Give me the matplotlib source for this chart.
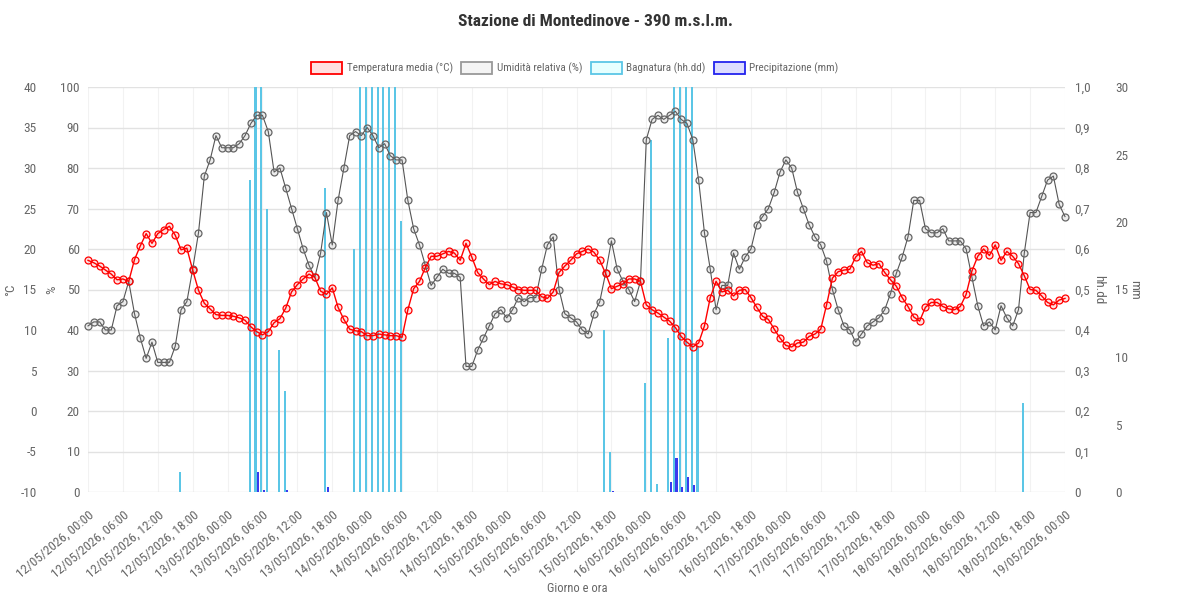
import datetime as dt
import numpy as np
import matplotlib
matplotlib.use("Agg")
import matplotlib.pyplot as plt
from matplotlib import font_manager
from matplotlib.patches import Patch
from matplotlib.ticker import FuncFormatter

# hourly data, 12/05/2026 00:00 -> 19/05/2026 00:00
temperatura = [18.6, 18.3, 17.9, 17.4, 16.9, 16.2, 16.3, 16.0, 18.7, 20.4, 21.9, 20.7, 21.9, 22.4, 22.8, 21.7,
               19.9, 20.1, 17.4, 14.9, 13.3, 12.6, 11.9, 11.8, 11.8, 11.7, 11.5, 11.2, 10.4, 9.8, 9.4, 9.8,
               10.9, 11.4, 12.7, 14.7, 15.6, 16.3, 16.9, 16.5, 14.8, 14.4, 15.2, 12.8, 11.3, 10.1, 9.9, 9.8,
               9.3, 9.3, 9.5, 9.4, 9.3, 9.3, 9.1, 12.5, 15.1, 16.0, 17.7, 19.1, 19.1, 19.4, 19.7, 19.5,
               18.6, 20.7, 19.0, 17.1, 16.3, 15.6, 16.0, 15.7, 15.6, 15.3, 15.0, 14.9, 14.9, 14.9, 14.1, 13.9,
               14.7, 17.1, 17.9, 18.6, 19.4, 19.7, 20.0, 19.6, 18.6, 17.0, 15.1, 15.4, 15.7, 16.3, 16.3, 16.0,
               13.1, 12.5, 12.1, 11.6, 11.1, 10.3, 9.2, 8.5, 7.9, 8.4, 10.5, 14.0, 16.0, 14.7, 14.9, 14.2,
               14.9, 15.0, 14.0, 12.8, 11.7, 11.3, 10.1, 9.0, 8.1, 7.9, 8.4, 8.5, 9.2, 9.5, 10.1, 13.1,
               16.4, 17.2, 17.4, 17.5, 19.0, 19.7, 18.3, 18.0, 18.2, 17.1, 16.2, 15.4, 14.0, 12.9, 11.6, 11.1,
               12.8, 13.4, 13.4, 12.9, 12.6, 12.5, 12.9, 14.4, 17.3, 19.1, 20.0, 19.2, 20.5, 18.6, 19.7, 19.1,
               18.2, 16.7, 15.0, 14.9, 14.2, 13.4, 13.1, 13.7, 13.9]

umidita = [41, 42, 42, 40, 40, 46, 47, 52, 44, 38, 33, 37, 32, 32, 32, 36,
           45, 47, 55, 64, 78, 82, 88, 85, 85, 85, 86, 88, 91, 93, 93, 89,
           79, 80, 75, 70, 65, 60, 56, 53, 59, 69, 61, 72, 80, 88, 89, 88,
           90, 88, 85, 86, 83, 82, 82, 72, 65, 61, 56, 51, 53, 55, 54, 54,
           53, 31, 31, 35, 38, 41, 44, 45, 43, 45, 48, 47, 48, 48, 55, 61,
           63, 50, 44, 43, 42, 40, 39, 44, 47, 54, 62, 55, 52, 50, 47, 52,
           87, 92, 93, 92, 93, 94, 92, 91, 87, 77, 64, 55, 45, 51, 51, 59,
           55, 58, 60, 66, 68, 70, 74, 79, 82, 80, 74, 70, 66, 63, 61, 57,
           50, 45, 41, 40, 37, 39, 41, 42, 43, 45, 49, 54, 58, 63, 72, 72,
           65, 64, 64, 65, 62, 62, 62, 60, 53, 46, 41, 42, 40, 46, 43, 41,
           45, 59, 69, 69, 73, 77, 78, 71, 68]

bagnatura_ore = [16, 28, 29, 30, 31, 33, 34, 41, 46, 47, 48, 49, 50, 51, 52, 53, 54,
                 89, 90, 96, 97, 98, 100, 101, 102, 103, 104, 105, 161]
bagnatura = [0.05, 0.77, 1.0, 1.0, 0.70, 0.35, 0.25, 0.75, 0.60, 1.0, 1.0, 1.0, 1.0, 1.0, 1.0, 1.0, 0.67,
             0.40, 0.10, 0.27, 0.87, 0.02, 0.38, 1.0, 1.0, 1.0, 1.0, 0.36, 0.22]

pioggia_ore = [29, 30, 34, 41, 90, 100, 101, 102, 103, 104]
pioggia = [1.5, 0.15, 0.15, 0.35, 0.1, 0.75, 2.5, 0.35, 1.1, 0.55]

inizio = dt.datetime(2026, 5, 12, 0, 0)
ore = np.arange(len(temperatura))
tick_ore = np.arange(0, 169, 6)
tick_lbl = [(inizio + dt.timedelta(hours=int(h))).strftime('%d/%m/%Y, %H:%M') for h in tick_ore]

# narrow font if there is one
names = {f.name for f in font_manager.fontManager.ttflist}
fam = 'DejaVu Sans'
for c in ['Liberation Sans Narrow', 'Roboto Condensed', 'Liberation Sans', 'Roboto']:
    if c in names:
        fam = c
        break
plt.rcParams['font.family'] = [fam, 'DejaVu Sans']
plt.rcParams['axes.unicode_minus'] = False

GREY = '#666666'
fig = plt.figure(figsize=(11.9, 5.95), dpi=100)
ax_b = fig.add_axes([88 / 1190, 1 - 492 / 595, 977 / 1190, 405 / 595])
ax_p = ax_b.twinx()
ax_h = ax_b.twinx()
ax_t = ax_b.twinx()

ax_b.bar(np.array(bagnatura_ore) - 0.2, bagnatura, width=0.36, color='#5bc6e6', lw=0)
ax_p.bar(np.array(pioggia_ore) + 0.2, pioggia, width=0.36, color='#3a3aee', lw=0)

ax_h.plot(ore, umidita, color='#555555', lw=0.8, marker='o', ms=5, mfc=(0.5, 0.5, 0.5, 0.15),
          mec='#666666', mew=0.9, clip_on=False)
ax_t.plot(ore, temperatura, color='red', lw=1.0, marker='o', ms=5, mfc=(1, 0, 0, 0.12),
          mec='red', mew=0.9, clip_on=False)

ax_b.set_xlim(0, 168)
ax_b.set_ylim(0, 1.0)
ax_p.set_ylim(0, 30)
ax_h.set_ylim(0, 100)
ax_t.set_ylim(-10, 40)

ax_b.set_yticks(np.arange(0, 1.01, 0.1))
ax_b.yaxis.set_major_formatter(FuncFormatter(lambda v, p: '0' if abs(v) < 1e-9 else f'{v:.1f}'.replace('.', ',')))
ax_p.set_yticks(np.arange(0, 31, 5))
ax_h.set_yticks(np.arange(0, 101, 10))
ax_t.set_yticks(np.arange(-10, 41, 5))

ax_b.set_xticks(tick_ore)
ax_b.set_xticklabels(tick_lbl, rotation=40, ha='right', rotation_mode='anchor')
ax_b.tick_params(axis='x', length=0, pad=12, labelsize=9.5, colors=GREY)
ax_b.grid(axis='x', color='#f2f2f2', lw=0.8)
ax_b.grid(axis='y', color='#e2e2e2', lw=1.0)
ax_b.set_axisbelow(True)

# right side: hh.dd and mm
ax_b.yaxis.tick_right()
ax_b.tick_params(axis='y', length=0, pad=7, labelsize=9.5, colors=GREY)
ax_p.tick_params(axis='y', length=0, pad=36, labelsize=9.5, colors=GREY)

# left side: % and °C
ax_h.yaxis.tick_left()
ax_t.yaxis.tick_left()
ax_h.tick_params(axis='y', length=0, pad=6, labelsize=9.5, colors=GREY)
ax_t.tick_params(axis='y', length=0, pad=37, labelsize=9.5, colors=GREY)

for a in (ax_b, ax_p, ax_h, ax_t):
    for s in a.spines.values():
        s.set_visible(False)
    a.tick_params(axis='x', length=0)

# axis titles
ymid = 1 - 290 / 595
fig.text(11 / 1190, ymid, '°C', rotation=90, ha='center', va='center', color=GREY, fontsize=9.5)
fig.text(52 / 1190, ymid, '%', rotation=90, ha='center', va='center', color=GREY, fontsize=9.5)
fig.text(1099 / 1190, ymid, 'hh.dd', rotation=-90, ha='center', va='center', color=GREY, fontsize=9.5)
fig.text(1135 / 1190, ymid, 'mm', rotation=-90, ha='center', va='center', color=GREY, fontsize=9.5)
fig.text(577 / 1190, 1 - 588 / 595, 'Giorno e ora', ha='center', va='center', color=GREY, fontsize=9)
fig.text(0.5, 1 - 22 / 595, 'Stazione di Montedinove - 390 m.s.l.m.', ha='center', va='center',
         fontsize=12.5, fontweight='bold', color='#333333')

handles = [Patch(facecolor='#ffe0e0', edgecolor='red', lw=1.3),
           Patch(facecolor='#f4f4f4', edgecolor='#999999', lw=1.3),
           Patch(facecolor='#e6ffff', edgecolor='#5bc6e6', lw=1.3),
           Patch(facecolor='#dcdcff', edgecolor='#2222ee', lw=1.3)]
labels = ['Temperatura media (°C)', 'Umidità relativa (%)', 'Bagnatura (hh.dd)', 'Precipitazione (mm)']
leg = fig.legend(handles, labels, loc='center', bbox_to_anchor=(575 / 1190, 1 - 68 / 595), ncol=4,
                 frameon=False, fontsize=8, handlelength=2.8, handleheight=1.3, handletextpad=0.4,
                 columnspacing=0.75)
for t in leg.get_texts():
    t.set_color(GREY)

fig.savefig('out.png', dpi=100, facecolor='white')
